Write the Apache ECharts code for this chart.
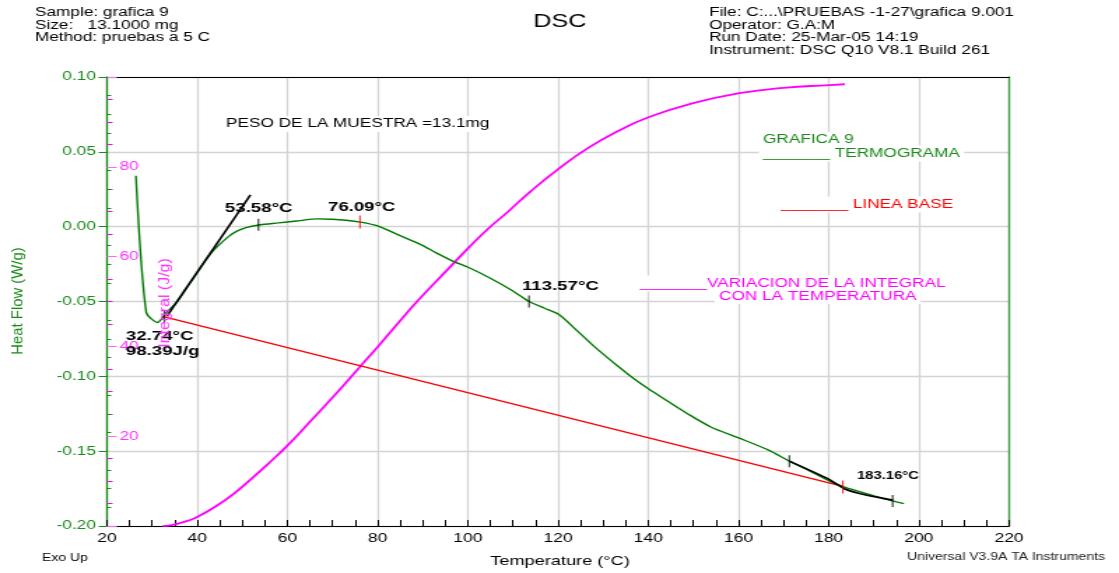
<!DOCTYPE html>
<html>
<head>
<meta charset="utf-8">
<script src="https://cdn.jsdelivr.net/npm/echarts@6/dist/echarts.min.js"></script>
<style>
  body { margin: 0; background: #fff; }
  #wrap { width: 1119px; height: 573px; overflow: hidden; }
  /* the reference is stretched horizontally, so the chart is drawn narrower and scaled */
  #main { width: 800px; height: 573px; transform: scaleX(1.39875); transform-origin: 0 0; }
</style>
</head>
<body>
<div id="wrap"><div id="main"></div></div>
<script>
var hfTemp  = [26.4, 28.7, 31.2, 33.3, 35.5, 38, 40.5, 42.2, 43.7, 45.1, 47, 48.8, 51, 54, 58, 62, 66.6, 70, 73, 76.2, 80, 85, 89.6, 93, 96.9, 100.2, 105, 110, 113.6, 117, 120.2, 124.4, 128, 133.3, 137, 140.2, 144, 148.9, 154, 160.2, 166.7, 171.3, 176, 180.7, 184, 187.3, 192, 196.7];
var hfValue = [0.034, -0.0573, -0.064, -0.057, -0.0503, -0.0393, -0.0284, -0.021, -0.0155, -0.0115, -0.0065, -0.003, -0.0005, 0.0013, 0.0025, 0.0038, 0.0052, 0.005, 0.0043, 0.003, 0.0005, -0.006, -0.012, -0.0175, -0.0233, -0.0273, -0.0345, -0.043, -0.050, -0.0545, -0.0587, -0.070, -0.080, -0.0933, -0.102, -0.1087, -0.116, -0.1253, -0.134, -0.1413, -0.1493, -0.1567, -0.1635, -0.1707, -0.1745, -0.1773, -0.1815, -0.185];

// integral (J/g)
var intTemp  = [32.4, 34, 36, 38, 40, 44, 48, 52, 56, 60, 65, 70, 76.2, 80.2, 85, 89.1, 95.5, 100.2, 104.5, 108.9, 114, 120.2, 126.7, 133, 140.2, 150, 160.2, 170, 180.2, 183.6];
var intValue = [0, 0.15, 0.6, 1.2, 2.0, 4.3, 7.1, 10.5, 14.1, 17.9, 23.2, 28.6, 35.6, 40.1, 45.7, 50.4, 57.1, 62.0, 66.2, 70.0, 74.6, 79.6, 84.2, 87.8, 91.1, 94.2, 96.4, 97.6, 98.2, 98.39];

// linea base y tangentes
var baseTemp  = [32.74, 183.16];
var baseValue = [-0.0603, -0.1735];
var onsetTemp  = [33.3, 51.8];
var onsetValue = [-0.0598, 0.0213];
var endTemp  = [171.3, 180, 183.6, 188.5, 194.2];
var endValue = [-0.1567, -0.1687, -0.1753, -0.1795, -0.1827];

// marcas sobre la curva
var blackTickTemp  = [32.74, 53.58, 113.57, 171.3, 194.2];
var blackTickValue = [-0.0603, 0.0013, -0.050, -0.1567, -0.1833];
var redTickTemp  = [76.09, 183.16];
var redTickValue = [0.0031, -0.174];

// ejes
var tempAxis = [20, 220, 20];
var hfAxis = [-0.20, 0.10, 0.05];
var intAxis = [0, 100, 20];

function pairs(xs, ys) { return xs.map(function (x, i) { return [x, ys[i]]; }); }

var S = 1119 / 800;
function px(x) { return x / S; }   // reference pixel -> chart space
var FONT = '"Liberation Sans", Arial, sans-serif';
var GREEN = '#1a8a1a', MAG = '#ff00ff', RED = '#ff0000';

function txt(x, y, text, o) {
  o = o || {};
  var padLeft = o.pad ? o.pad[1] : 0;
  return {
    type: 'text', x: px(x) - padLeft, y: y, rotation: o.rotation || 0, scaleX: o.scaleX || 1, z: 100,
    style: {
      text: text, fontFamily: FONT, fontSize: o.size || 12.3, fontWeight: o.weight || 'normal',
      fill: o.color || '#000', align: o.align || 'left', verticalAlign: 'middle',
      backgroundColor: o.bg, padding: o.pad
    }
  };
}

var myChart = echarts.init(document.getElementById('main'));

var option = {
  animation: false,
  backgroundColor: '#fff',
  grid: { left: px(107), right: 800 - px(1009), top: 77, bottom: 47, outerBoundsMode: 'none' },
  xAxis: [{
    type: 'value', min: tempAxis[0], max: tempAxis[1], interval: tempAxis[2],
    axisLine: { onZero: false, lineStyle: { color: '#000', width: 1 } },
    axisTick: { inside: true, length: 6, lineStyle: { color: '#000' } },
    minorTick: { show: true, splitNumber: 4, length: 6, lineStyle: { color: '#000' } },
    axisLabel: { color: '#000', fontSize: 12.5, fontFamily: FONT, margin: 6 },
    splitLine: { show: true, lineStyle: { color: '#d4d4d4', width: 1.3 } }
  }, {
    type: 'value', position: 'top', min: tempAxis[0], max: tempAxis[1],
    axisLine: { show: true, onZero: false, lineStyle: { color: '#000', width: 1 } },
    axisTick: { show: false }, axisLabel: { show: false }, splitLine: { show: false }
  }],
  yAxis: [{
    type: 'value', min: hfAxis[0], max: hfAxis[1], interval: hfAxis[2],
    axisLine: { show: true, onZero: false, lineStyle: { color: GREEN, width: 1.3 } },
    axisTick: { show: true, length: 6, lineStyle: { color: GREEN } },
    axisLabel: {
      color: GREEN, fontSize: 12.3, fontFamily: FONT, margin: 8,
      formatter: function (v) { return Math.abs(v) < 1e-9 ? '0.00' : v.toFixed(2); }
    },
    splitLine: { show: true, lineStyle: { color: '#d4d4d4', width: 1.3 } }
  }, {
    type: 'value', position: 'left', min: intAxis[0], max: intAxis[1], interval: intAxis[2],
    axisLine: { show: false, onZero: false },
    axisTick: { show: true, inside: true, length: 7, lineStyle: { color: '#ff66ff' } },
    minorTick: { show: true, splitNumber: 4, length: 4, lineStyle: { color: MAG } },
    axisLabel: { inside: true, color: '#ff33ff', fontSize: 12.3, fontFamily: FONT, margin: 9, showMinLabel: false, showMaxLabel: false },
    splitLine: { show: false }
  }, {
    type: 'value', position: 'left', min: hfAxis[0], max: hfAxis[1], interval: hfAxis[2],
    axisLine: { show: false, onZero: false },
    axisTick: { show: false, inside: true },
    minorTick: { show: true, splitNumber: 4, length: 3, lineStyle: { color: GREEN } },
    axisLabel: { show: false }, splitLine: { show: false }
  }, {
    type: 'value', position: 'right', min: 0, max: 1,
    axisLine: { show: true, onZero: false, lineStyle: { color: '#3a9f3a', width: 1.3 } },
    axisTick: { show: false }, axisLabel: { show: false }, splitLine: { show: false }
  }],
  series: [{
    type: 'line', data: pairs(intTemp, intValue), yAxisIndex: 1, smooth: true, symbol: 'none',
    lineStyle: { color: MAG, width: 1.8 }, z: 2
  }, {
    type: 'line', data: pairs(baseTemp, baseValue), symbol: 'none',
    lineStyle: { color: RED, width: 1.4 }, z: 3
  }, {
    type: 'line', data: pairs(hfTemp, hfValue), symbol: 'none', smooth: 0.25,
    lineStyle: { color: '#007a00', width: 1.4 }, z: 4
  }, {
    type: 'line', data: pairs(onsetTemp, onsetValue), symbol: 'none',
    lineStyle: { color: '#000', width: 1.6 }, z: 5
  }, {
    type: 'line', data: pairs(endTemp, endValue), symbol: 'none', smooth: 0.2,
    lineStyle: { color: '#000', width: 1.6 }, z: 5
  }, {
    type: 'scatter', data: pairs(blackTickTemp, blackTickValue), symbol: 'rect', symbolSize: [1.1, 12],
    itemStyle: { color: '#000' }, z: 6
  }, {
    type: 'scatter', data: pairs(redTickTemp, redTickValue), symbol: 'rect', symbolSize: [1.1, 13],
    itemStyle: { color: RED }, z: 6
  }],
  graphic: [
    txt(35, 12.5, 'Sample: grafica 9'),
    txt(35, 25.5, 'Size:   13.1000 mg'),
    txt(35, 38, 'Method: pruebas a 5 C'),
    txt(709, 12.5, 'File: C:...\\PRUEBAS -1-27\\grafica 9.001'),
    txt(709, 25.2, 'Operator: G.A:M'),
    txt(709, 37.8, 'Run Date: 25-Mar-05 14:19'),
    txt(709, 50.5, 'Instrument: DSC Q10 V8.1 Build 261'),
    txt(560, 22, 'DSC', { size: 18, align: 'center' }),
    txt(226, 124, 'PESO DE LA MUESTRA =13.1mg', { bg: '#fff', pad: [2, 3] }),
    txt(763, 140, 'GRAFICA 9', { color: GREEN, bg: '#fff', pad: [2, 3] }),
    txt(763, 153.5, '_______ TERMOGRAMA', { color: GREEN, bg: '#fff', pad: [2, 3] }),
    txt(781, 204.5, '_______ LINEA BASE', { color: RED, bg: '#fff', pad: [2, 3] }),
    txt(640, 283.5, '_______VARIACION DE LA INTEGRAL', { color: MAG, bg: '#fff', pad: [2, 3] }),
    txt(719, 297, 'CON LA TEMPERATURA', { color: MAG, bg: '#fff', pad: [1, 3] }),
    txt(225, 208, '53.58°C', { size: 13.3, weight: 'bold' }),
    txt(328, 207.7, '76.09°C', { size: 13.3, weight: 'bold' }),
    txt(522, 286.7, '113.57°C', { size: 13.3, weight: 'bold' }),
    txt(126, 336.7, '32.74°C', { size: 13.3, weight: 'bold' }),
    txt(126, 351.7, '98.39J/g', { size: 13.3, weight: 'bold' }),
    txt(857, 476, '183.16°C', { size: 10.6, weight: 'bold' }),
    txt(18, 301, 'Heat Flow (W/g)', { color: GREEN, size: 11, align: 'center', rotation: Math.PI / 2, scaleX: 1.35 }),
    txt(165, 303, 'Integral (J/g)', { color: '#ff33ff', size: 11, align: 'center', rotation: Math.PI / 2, scaleX: 1.45 }),
    txt(42, 558, 'Exo Up', { size: 10 }),
    txt(560, 561, 'Temperature (°C)', { size: 13, align: 'center' }),
    txt(1105, 557.5, 'Universal V3.9A TA Instruments', { size: 10, align: 'right', color: '#222' })
  ]
};

myChart.setOption(option);
</script>
</body>
</html>
